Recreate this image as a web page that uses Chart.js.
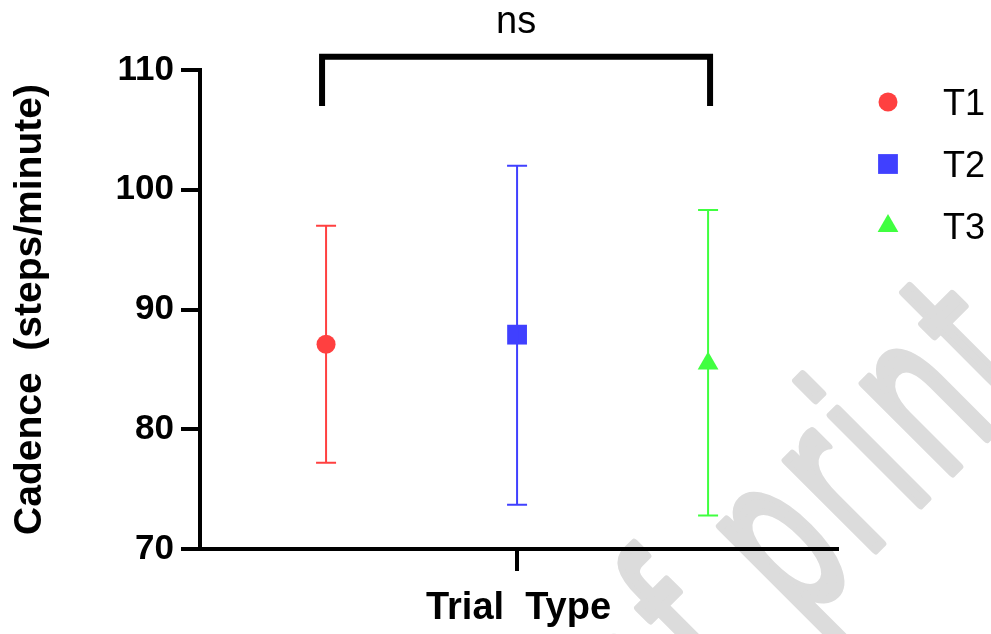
<!DOCTYPE html>
<html>
<head>
<meta charset="utf-8">
<title>Cadence by trial type</title>
<script src="https://cdn.jsdelivr.net/npm/chart.js@4.4.1/dist/chart.umd.min.js"></script>
<style>
  html, body { margin: 0; padding: 0; background: #fff; }
  #wrap { width: 991px; height: 634px; }
</style>
</head>
<body>
<div id="wrap"><canvas id="cadenceChart" width="991" height="634"></canvas></div>
<script>
// values
const trials = ['T1', 'T2', 'T3'];
const cadenceMean = [87.1, 87.9, 85.5];
const cadenceLow = [77.2, 73.7, 72.8];
const cadenceHigh = [97.0, 102.0, 98.3];
const yTicks = [70, 80, 90, 100, 110];
const sigLabel = 'ns';
const sigPair = [0, 2];
const sigLevels = [107.0, 111.1]; // bracket feet / bracket top

const colors = ['rgb(255,64,64)', 'rgb(64,64,255)', 'rgb(64,255,64)'];
const shapes = ['circle', 'rect', 'triangle'];
const sizes = [9.5, 14, 12];
const FONT = '"Liberation Sans", Arial, Helvetica, sans-serif';

Chart.defaults.font.family = FONT;
Chart.defaults.color = '#000';

// grey diagonal watermark behind the plot
const watermark = {
    id: 'watermark',
    beforeDraw(chart) {
        const ctx = chart.ctx;
        const lead = 'Proof ';
        const spacing = 16;
        ctx.save();
        ctx.font = '230px "DejaVu Sans"';
        const w = ctx.measureText(lead).width + lead.length * spacing;
        ctx.translate(800, 625);
        ctx.rotate(-Math.PI / 4);
        ctx.scale(0.573, 1);
        ctx.letterSpacing = spacing + 'px';
        ctx.fillStyle = '#dcdcdc';
        ctx.strokeStyle = '#dcdcdc';
        ctx.lineWidth = 9;
        ctx.lineJoin = 'round';
        ctx.fillText('Proof print', -w, 0);
        ctx.strokeText('Proof print', -w, 0);
        ctx.restore();
    }
};

// vertical error bars with caps
const errorBars = {
    id: 'errorBars',
    afterDatasetsDraw(chart) {
        const { ctx, scales: { x, y } } = chart;
        ctx.save();
        ctx.lineWidth = 2;
        trials.forEach((t, i) => {
            const px = x.getPixelForValue(i);
            const top = y.getPixelForValue(cadenceHigh[i]);
            const bot = y.getPixelForValue(cadenceLow[i]);
            ctx.strokeStyle = colors[i];
            ctx.beginPath();
            ctx.moveTo(px, top); ctx.lineTo(px, bot);
            ctx.moveTo(px - 10, top); ctx.lineTo(px + 10, top);
            ctx.moveTo(px - 10, bot); ctx.lineTo(px + 10, bot);
            ctx.stroke();
        });
        ctx.restore();
    }
};

// significance bracket + legend on the right
const extras = {
    id: 'extras',
    afterDraw(chart) {
        const { ctx, chartArea, scales: { x, y } } = chart;
        ctx.save();

        const x0 = x.getPixelForValue(sigPair[0]) - 4;
        const x1 = x.getPixelForValue(sigPair[1]) + 2;
        const yFoot = y.getPixelForValue(sigLevels[0]);
        const yTop = y.getPixelForValue(sigLevels[1]);
        ctx.strokeStyle = '#000';
        ctx.lineWidth = 6;
        ctx.lineJoin = 'miter';
        ctx.beginPath();
        ctx.moveTo(x0, yFoot);
        ctx.lineTo(x0, yTop);
        ctx.lineTo(x1, yTop);
        ctx.lineTo(x1, yFoot);
        ctx.stroke();

        ctx.fillStyle = '#000';
        ctx.font = '38px ' + FONT;
        ctx.textAlign = 'center';
        ctx.textBaseline = 'alphabetic';
        ctx.fillText(sigLabel, (x0 + x1) / 2, yTop - 24);

        // legend
        const lx = chartArea.right + 51;
        const ly = chartArea.top + 32;
        ctx.font = '36px ' + FONT;
        ctx.textAlign = 'left';
        chart.data.datasets.forEach((ds, i) => {
            const cy = ly + i * 62;
            ctx.fillStyle = ds.backgroundColor;
            Chart.helpers.drawPoint(ctx, { pointStyle: ds.pointStyle, radius: ds.pointRadius, borderWidth: 0 }, lx, cy);
            ctx.fillStyle = '#000';
            ctx.fillText(ds.label, chartArea.right + 106, cy + 13);
        });
        ctx.restore();
    }
};

const ctx = document.getElementById('cadenceChart').getContext('2d');
const cadenceChart = new Chart(ctx, {
    type: 'scatter',
    data: {
        datasets: trials.map((t, i) => ({
            label: t,
            data: [{ x: i, y: cadenceMean[i] }],
            pointStyle: shapes[i],
            pointRadius: sizes[i],
            pointHoverRadius: sizes[i],
            backgroundColor: colors[i],
            borderColor: colors[i],
            borderWidth: 0
        }))
    },
    options: {
        responsive: false,
        animation: false,
        layout: { padding: { top: 70, right: 154, left: 0, bottom: 0 } },
        plugins: {
            legend: { display: false },
            tooltip: { enabled: false }
        },
        scales: {
            x: {
                type: 'linear',
                min: -0.66,
                max: 2.675,
                afterBuildTicks: s => { s.ticks = [{ value: (trials.length - 1) / 2 }]; },
                afterFit: s => { s.height = 85; },
                ticks: { callback: () => '' },
                grid: { drawOnChartArea: false, tickLength: 22, lineWidth: 4, color: '#000' },
                border: { display: true, color: '#000', width: 4 },
                title: {
                    display: true,
                    text: 'Trial  Type',
                    font: { size: 38, weight: 'bold' },
                    padding: { top: 0, bottom: 3 }
                }
            },
            y: {
                min: yTicks[0],
                max: yTicks[yTicks.length - 1],
                afterBuildTicks: s => { s.ticks = yTicks.map(v => ({ value: v })); },
                afterFit: s => { s.width = 200; },
                ticks: { font: { size: 35, weight: 'bold' }, padding: 7, color: '#000' },
                grid: { drawOnChartArea: false, tickLength: 19, lineWidth: 4, color: '#000' },
                border: { display: true, color: '#000', width: 4 },
                title: {
                    display: true,
                    text: 'Cadence  (steps/minute)',
                    font: { size: 39, weight: 'bold' },
                    padding: { top: 7, bottom: 0 }
                }
            }
        }
    },
    plugins: [watermark, errorBars, extras]
});
</script>
</body>
</html>
